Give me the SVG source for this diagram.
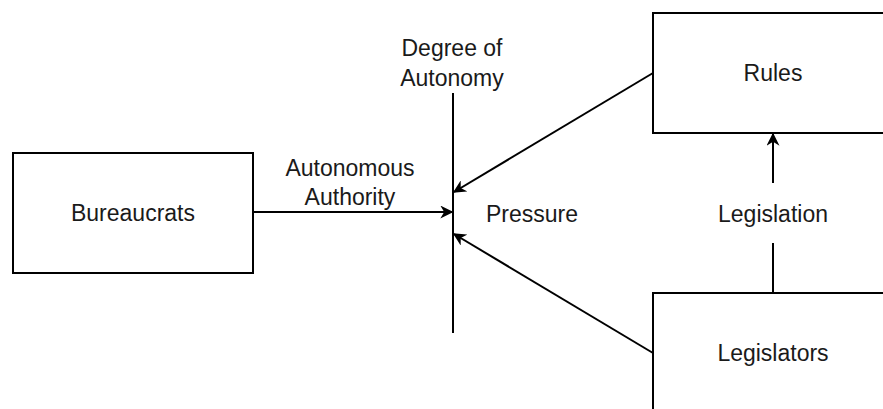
<svg xmlns="http://www.w3.org/2000/svg" width="883" height="409" viewBox="0 0 883 409">
<style>
.box{fill:#fff;stroke:#000;stroke-width:2}
.t{font-family:"Liberation Sans",Arial,sans-serif;font-size:23px;fill:#1a1a1a;text-anchor:middle;dominant-baseline:central}
.c{stroke:#000;stroke-width:2;fill:none}
</style>
<defs>
<marker id="ah" viewBox="0 0 10 10" refX="9" refY="5" markerWidth="13" markerHeight="13" orient="auto" markerUnits="userSpaceOnUse">
<path d="M0,0 L10,5 L0,10 L3,5 Z" fill="#000"/>
</marker>
</defs>
<rect width="883" height="409" fill="#fff"/>
<g id="axis">
<line class="c" x1="453" y1="93" x2="453" y2="333"/>
<text class="t" x="452" y="48">Degree of</text>
<text class="t" x="452" y="78">Autonomy</text>
<text class="t" x="532" y="214">Pressure</text>
</g>
<g id="bureaucrats">
<rect class="box" x="13" y="153" width="240" height="120"/>
<text class="t" x="133" y="213">Bureaucrats</text>
</g>
<g id="rules">
<rect class="box" x="653" y="13" width="240" height="120"/>
<text class="t" x="773" y="73">Rules</text>
</g>
<g id="legislators">
<rect class="box" x="653" y="293" width="240" height="120"/>
<text class="t" x="773" y="353">Legislators</text>
</g>
<g id="connectors">
<line class="c" x1="253" y1="212" x2="452" y2="212" marker-end="url(#ah)"/>
<text class="t" x="350" y="168">Autonomous</text>
<text class="t" x="350" y="197">Authority</text>
<line class="c" x1="653" y1="73" x2="454" y2="192" marker-end="url(#ah)"/>
<line class="c" x1="653" y1="353" x2="454" y2="234" marker-end="url(#ah)"/>
<line class="c" x1="773" y1="293" x2="773" y2="243"/>
<line class="c" x1="773" y1="183" x2="773" y2="134" marker-end="url(#ah)"/>
<text class="t" x="773" y="214">Legislation</text>
</g>
</svg>
